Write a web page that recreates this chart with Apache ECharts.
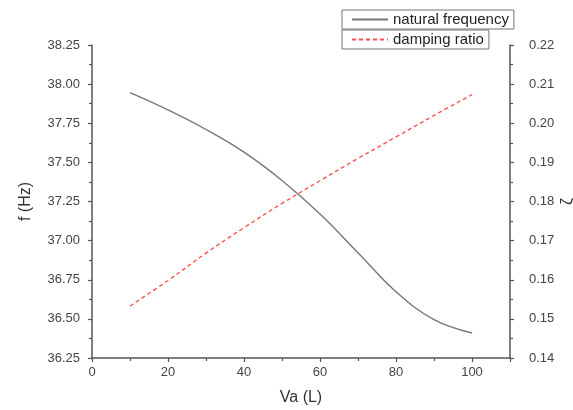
<!DOCTYPE html>
<html>
<head>
<meta charset="utf-8">
<script src="https://cdn.jsdelivr.net/npm/echarts@6/dist/echarts.min.js"></script>
<style>
html,body{margin:0;padding:0;background:#fff;}
#chart{width:573px;height:410px;}
</style>
</head>
<body>
<div id="chart"></div>
<script>
// Data
const volume = [10, 20, 30, 40, 50, 60, 70, 80, 90, 100];
const naturalFrequency = [37.945, 37.835, 37.710, 37.565, 37.384, 37.170, 36.922, 36.673, 36.495, 36.410];
const dampingRatio = [0.1533, 0.1598, 0.1668, 0.1733, 0.1795, 0.1853, 0.1910, 0.1965, 0.2020, 0.2073];

const freqPairs = volume.map((v, i) => [v, naturalFrequency[i]]);
const dampPairs = volume.map((v, i) => [v, dampingRatio[i]]);

const axisColor = '#555';
const labelColor = '#444';
const font = 'Liberation Sans, Arial, sans-serif';

function legendBox(name, top) {
  return {
    data: [name],
    left: 342, top: top,
    orient: 'vertical',
    borderColor: '#777', borderWidth: 1, borderRadius: 0,
    padding: [2, 5, 2, 9],
    itemWidth: 36, itemHeight: 14, itemGap: 0,
    itemStyle: { opacity: 0 },
    textStyle: { fontSize: 15, color: '#222', fontFamily: font }
  };
}

const chart = echarts.init(document.getElementById('chart'));
chart.setOption({
  animation: false,
  backgroundColor: '#fff',
  textStyle: { fontFamily: font },
  grid: { left: 92, right: 63, top: 45, bottom: 52, containLabel: false, outerBoundsMode: 'none' },
  legend: [legendBox('natural frequency', 10), legendBox('damping ratio', 30)],
  xAxis: {
    type: 'value', min: 0, max: 110, interval: 20,
    name: 'Va (L)', nameLocation: 'middle', nameGap: 32,
    nameTextStyle: { fontSize: 16, color: '#333', fontFamily: font },
    axisLine: { show: true, onZero: false, lineStyle: { color: axisColor, width: 1.5 } },
    axisTick: { show: true, inside: false, length: 4, lineStyle: { color: axisColor, width: 1.2 } },
    minorTick: { show: true, splitNumber: 2, length: 3, lineStyle: { color: axisColor, width: 1.2 } },
    axisLabel: { fontSize: 13, color: labelColor, margin: 8, showMaxLabel: false,
      formatter: v => (v > 100 ? '' : String(v)) },
    splitLine: { show: false }
  },
  yAxis: [
    {
      type: 'value', min: 36.25, max: 38.25, interval: 0.25, position: 'left',
      name: 'f (Hz)', nameLocation: 'middle', nameGap: 58, nameMoveOverlap: false,
      nameTextStyle: { fontSize: 16, color: '#333', fontFamily: font },
      axisLine: { show: true, onZero: false, lineStyle: { color: axisColor, width: 1.5 } },
      axisTick: { show: true, inside: false, length: 4, lineStyle: { color: axisColor, width: 1.2 } },
      minorTick: { show: true, splitNumber: 2, length: 3, lineStyle: { color: axisColor, width: 1.2 } },
      axisLabel: { fontSize: 13, color: labelColor, margin: 12, formatter: v => v.toFixed(2) },
      splitLine: { show: false }
    },
    {
      type: 'value', min: 0.14, max: 0.22, interval: 0.01, position: 'right',
      name: 'ζ', nameLocation: 'middle', nameGap: 50, nameMoveOverlap: false,
      nameTextStyle: { fontSize: 16, color: '#333', fontFamily: font },
      axisLine: { show: true, onZero: false, lineStyle: { color: axisColor, width: 1.5 } },
      axisTick: { show: true, inside: false, length: 4, lineStyle: { color: axisColor, width: 1.2 } },
      minorTick: { show: true, splitNumber: 2, length: 3, lineStyle: { color: axisColor, width: 1.2 } },
      axisLabel: { fontSize: 13, color: labelColor, margin: 19, formatter: v => v.toFixed(2) },
      splitLine: { show: false }
    }
  ],
  series: [
    {
      name: 'natural frequency', type: 'line', yAxisIndex: 0,
      data: freqPairs, smooth: 0.4, symbol: 'none',
      itemStyle: { color: '#777777' },
      lineStyle: { color: '#777777', width: 1.4 }
    },
    {
      name: 'damping ratio', type: 'line', yAxisIndex: 1,
      data: dampPairs, smooth: 0.4, symbol: 'none',
      itemStyle: { color: '#ff5050' },
      lineStyle: { color: '#ff5050', width: 1.4, type: [4, 3] }
    }
  ]
});
</script>
</body>
</html>
